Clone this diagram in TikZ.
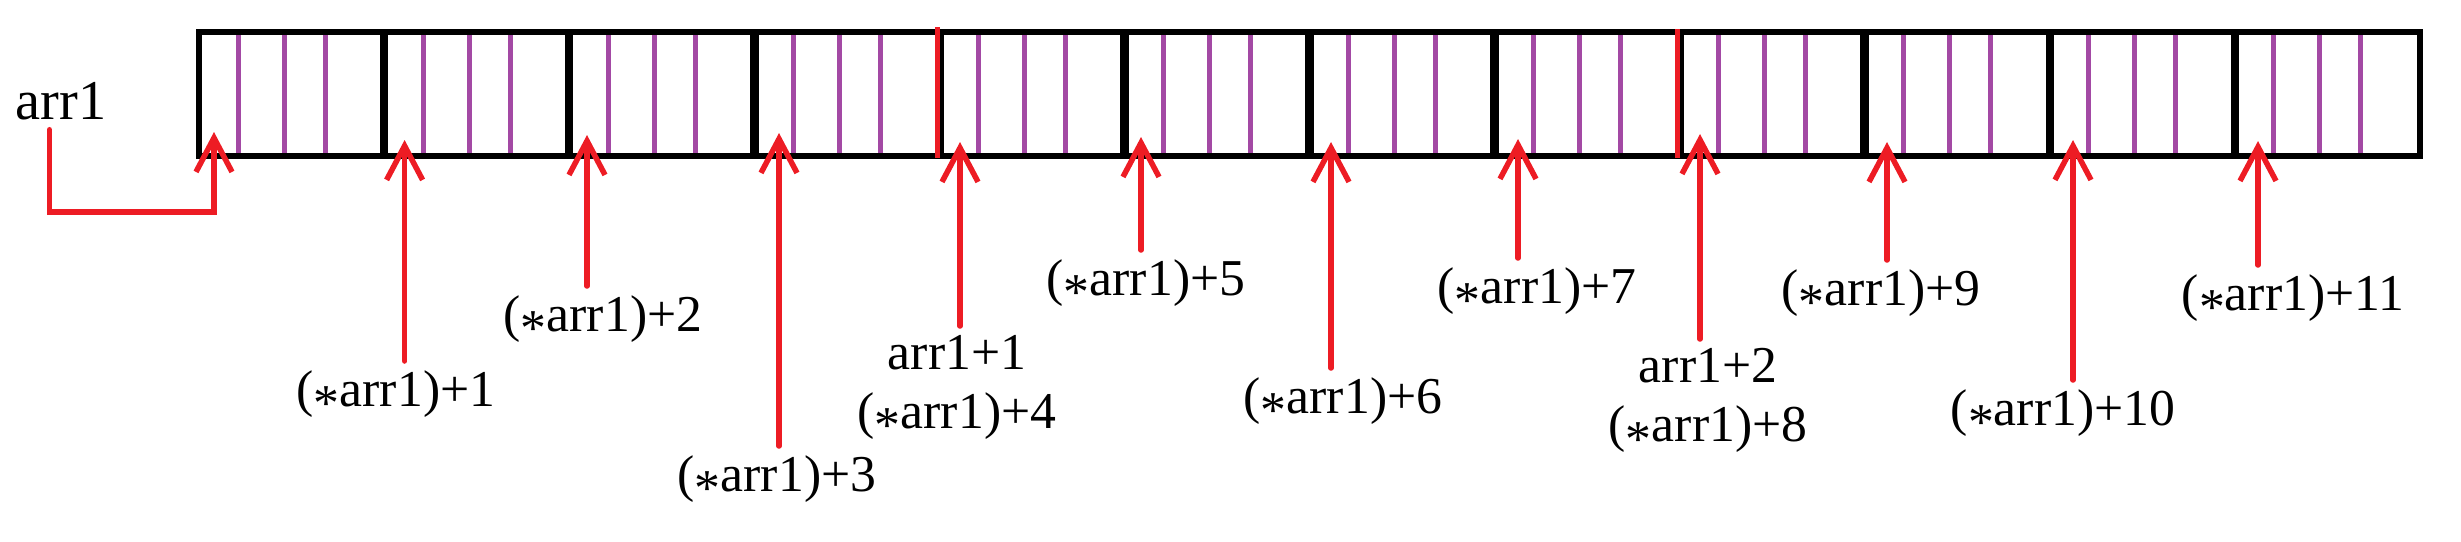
\documentclass[tikz,border=0pt]{standalone}
\usepackage{fontspec}
\setmainfont{Liberation Serif}
\usetikzlibrary{arrows.meta}

\definecolor{paintred}{RGB}{237,28,36}
\definecolor{paintpurple}{RGB}{163,73,164}

\newcommand{\ptrstar}{\raisebox{-0.6ex}{*}}

\tikzset{
    ptr/.style={paintred, line width=0.055cm, line cap=round,
        -{Straight Barb[length=0.34cm, width=0.36cm]}},
    lbl/.style={inner sep=2.5pt, anchor=north, align=center,
        font=\fontsize{14.7pt}{16.8pt}\selectfont},
}

\begin{document}
\begin{tikzpicture}[x=0.01cm, y=-0.01cm]
        \useasboundingbox (0,0) rectangle (2461,541);

        % byte lines inside every int
        \foreach \i in {0,...,11}{
            \foreach \o in {39,85,126}
                \draw[paintpurple, line width=0.05cm, line cap=round] (199+185.08*\i+\o,33) -- ++(0,122);
        }

        % the twelve ints
        \draw[line width=0.06cm] (199,32) rectangle (2420,156);
        \foreach \i in {1,...,11}
            \draw[line width=0.085cm] (199+185.08*\i,32) -- ++(0,124);
        % where arr1+1 and arr1+2 start
        \draw[paintred, line width=0.05cm] (937.5,27) -- (937.5,158);
        \draw[paintred, line width=0.05cm] (1677.8,29) -- (1677.8,158);

        % arr1 pointer
        \node[inner sep=2.5pt, anchor=north, font=\fontsize{16pt}{19pt}\selectfont] (arr) at (61,73) {arr1};
        \coordinate (c0) at (49.5,212);
        \coordinate (t0) at (214,132);
        \draw[ptr] (arr.south -| c0) -- (c0) -| (t0);

        % labels under the row
        \node[lbl] (p1) at (396,361) {(\ptrstar arr1)+1};
        \node[lbl] (p2) at (603,286) {(\ptrstar arr1)+2};
        \node[lbl] (p3) at (777,446) {(\ptrstar arr1)+3};
        \node[lbl] (p4) at (957,326) {arr1+1\\(\ptrstar arr1)+4};
        \node[lbl] (p5) at (1146,250) {(\ptrstar arr1)+5};
        \node[lbl] (p6) at (1343,368) {(\ptrstar arr1)+6};
        \node[lbl] (p7) at (1537,258) {(\ptrstar arr1)+7};
        \node[lbl] (p8) at (1708,339) {arr1+2\\(\ptrstar arr1)+8};
        \node[lbl] (p9) at (1881,260) {(\ptrstar arr1)+9};
        \node[lbl] (p10) at (2063,380) {(\ptrstar arr1)+10};
        \node[lbl] (p11) at (2293,265) {(\ptrstar arr1)+11};

        \coordinate (t1) at (404.6,140);
        \coordinate (t2) at (587,135);
        \coordinate (t3) at (779,133);
        \coordinate (t4) at (960,142);
        \coordinate (t5) at (1141,137);
        \coordinate (t6) at (1331,142);
        \coordinate (t7) at (1518,139);
        \coordinate (t8) at (1700,134);
        \coordinate (t9) at (1887,142);
        \coordinate (t10) at (2073,140);
        \coordinate (t11) at (2258,141);

        \draw[ptr] (p1.north -| t1) -- (t1);
        \draw[ptr] (p2.north -| t2) -- (t2);
        \draw[ptr] (p3.north -| t3) -- (t3);
        \draw[ptr] (p4.north -| t4) -- (t4);
        \draw[ptr] (p5.north -| t5) -- (t5);
        \draw[ptr] (p6.north -| t6) -- (t6);
        \draw[ptr] (p7.north -| t7) -- (t7);
        \draw[ptr] (p8.north -| t8) -- (t8);
        \draw[ptr] (p9.north -| t9) -- (t9);
        \draw[ptr] (p10.north -| t10) -- (t10);
        \draw[ptr] (p11.north -| t11) -- (t11);
\end{tikzpicture}
\end{document}
